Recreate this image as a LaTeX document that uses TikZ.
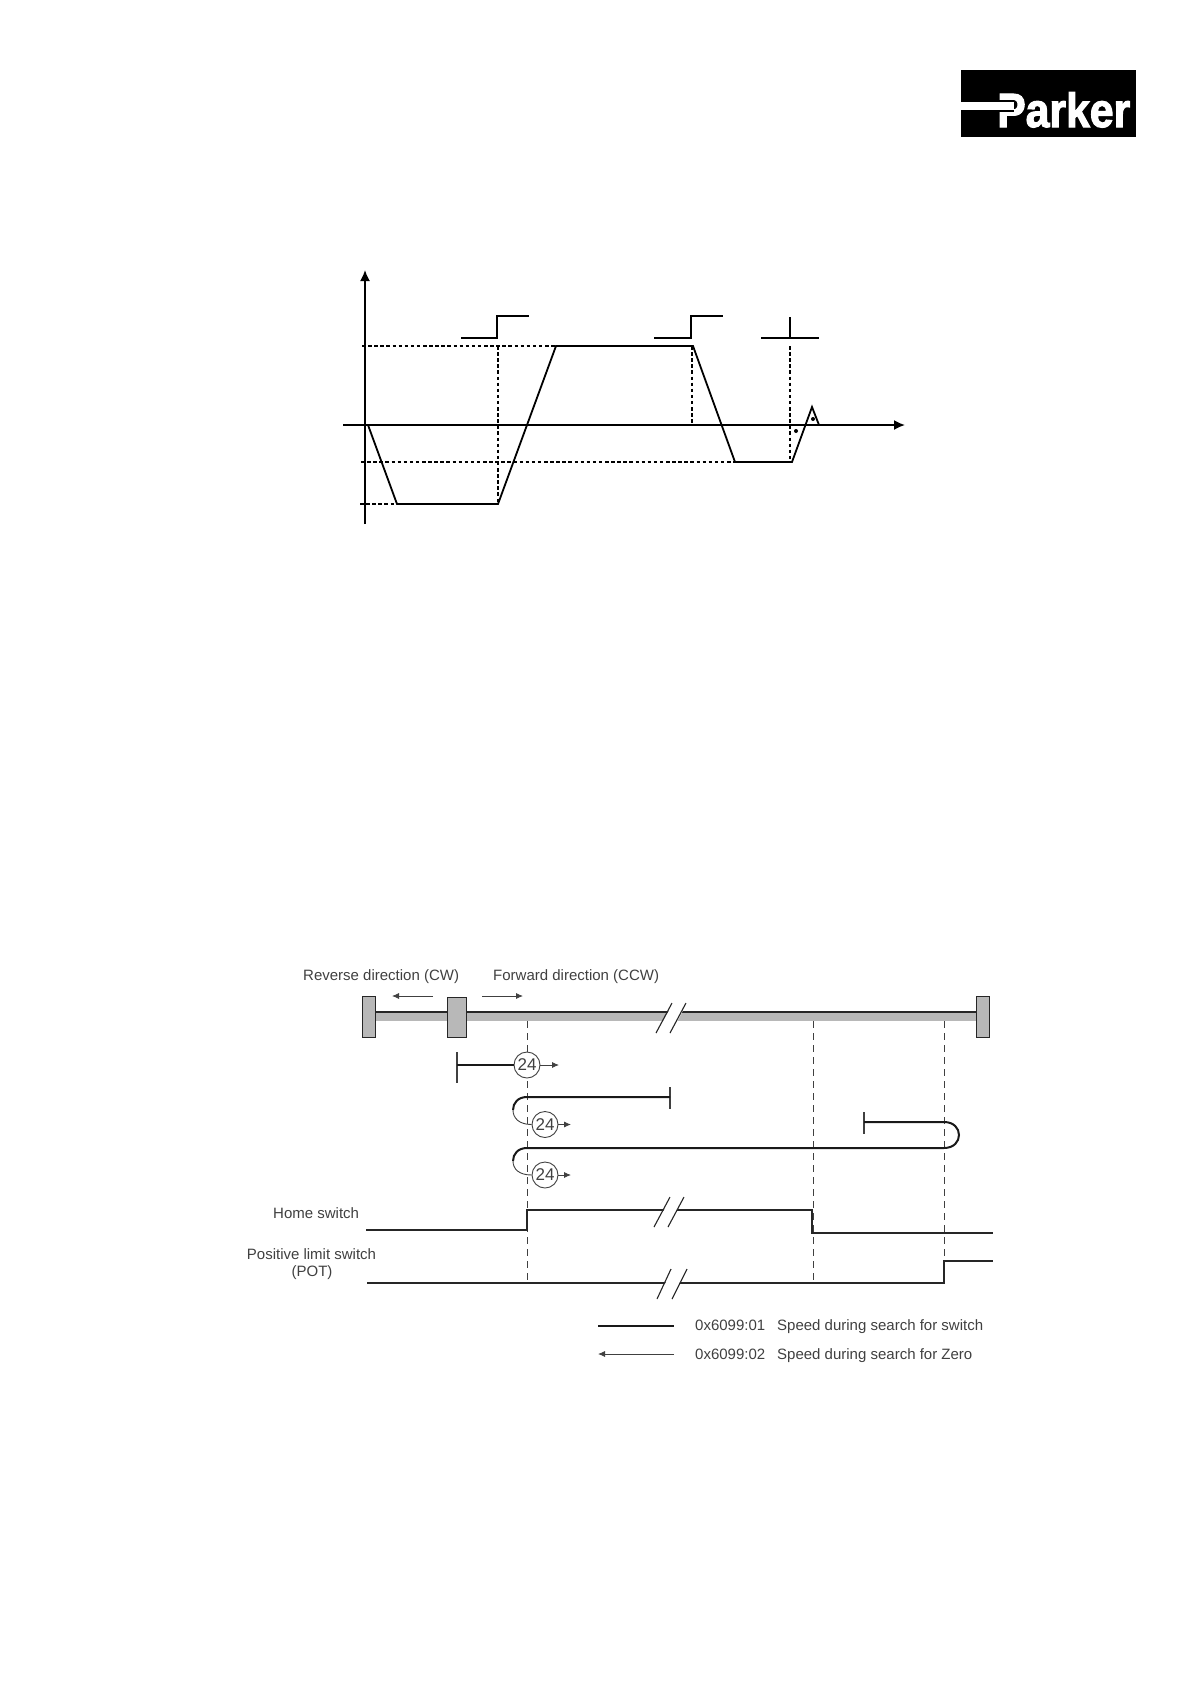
\documentclass[tikz,border=0pt]{standalone}
\usepackage{fontspec}
\setmainfont{Liberation Sans}
\newfontfamily\logofont[UprightFont=* Bold,FakeBold=2.5]{Liberation Sans}
\usepackage{xcolor}
\usetikzlibrary{arrows,arrows.meta,shapes,positioning,calc}

\definecolor{darktext}{HTML}{404040}
\definecolor{blockgray}{HTML}{B8B8B8}

\begin{document}
\begin{tikzpicture}[
    x=1pt, y=-1pt,
    axis/.style={-{Latex[length=11pt,width=10pt]}, line width=1.7pt, black},
    profile/.style={line width=1.8pt, black, line join=miter},
    guide/.style={line width=1.3pt, black, dash pattern=on 3.5pt off 2.6pt},
    block/.style={rectangle, draw=black!85, line width=1.2pt, fill=blockgray, inner sep=0pt},
    zone/.style={line width=0.9pt, darktext, dash pattern=on 7pt off 5pt},
    fastrun/.style={line width=2pt, black!90},
    slowrun/.style={line width=0.9pt, darktext},
    slowarrow/.style={-{Latex[length=7pt,width=6pt]}, line width=0.8pt, darktext},
    tick/.style={line width=1.1pt, darktext},
    signal/.style={line width=1.4pt, black!85},
    circled/.style={circle, draw=darktext, line width=0.9pt, fill=white, inner sep=0pt, minimum size=26pt, font=\fontsize{17}{17}\selectfont, text=darktext},
    label/.style={inner sep=0pt, font=\fontsize{15}{17}\selectfont, text=darktext},
    breakmark/.style={line width=1.1pt, black!85}
]
\useasboundingbox (0,0) rectangle (1191,1684);

% Logo
\node[rectangle, fill=black, inner sep=0pt, minimum width=175pt, minimum height=67pt, anchor=north west] (logo) at (961,70) {};
\node[inner sep=0pt, text=white, anchor=base west, font=\logofont\fontsize{48}{48}\selectfont] (parker) at (997,127) {\scalebox{0.89}[1]{Parker}};
\fill[black] (998,100) rectangle (1014,112);
\fill[white] (logo.west |- 0,102) rectangle (1014,110);

% Speed profile
\coordinate (vbottom) at (365,524);
\coordinate (vtop) at (365,270);
\coordinate (tleft) at (343,425);
\coordinate (tright) at (905,425);
\draw[axis] (vbottom) -- (vtop);
\draw[axis] (tleft) -- (tright);

\draw[guide] (362,346) -- (556,346);
\draw[guide] (361,462) -- (735,462);
\draw[guide] (360,504) -- (397,504);
\draw[guide] (498,346) -- (498,504);
\draw[guide] (692,346) -- (692,425);
\draw[guide] (790,346) -- (790,462);

\draw[profile] (368,425) -- (397,504) -- (498,504) -- (556,346) -- (693,346) -- (735,462) -- (792,462) -- (812,407) -- (819,425);

% Switch edges
\draw[profile] (461,338) -- (497,338) -- (497,316) -- (529,316);
\draw[profile] (654,338) -- (691,338) -- (691,316) -- (723,316);
\draw[profile] (761,338) -- (819,338);
\draw[profile] (790,317) -- (790,338);

\fill (796,431) circle (2);
\fill (813,419) circle (2);

% Direction labels
\node[label, anchor=base west] (reverse) at (303,980) {Reverse direction (CW)};
\node[label, anchor=base west] (forward) at (493,980) {Forward direction (CCW)};
\draw[slowarrow] (433,996) -- (392,996);
\draw[slowarrow] (482,996) -- (523,996);

% Zone boundaries
\draw[zone] (527,1021) -- (527,1283);
\draw[zone] (813,1021) -- (813,1283);
\draw[zone] (944,1021) -- (944,1283);

% Rail and stops
\node[rectangle, fill=blockgray, inner sep=0pt, minimum width=607pt, minimum height=9pt, anchor=north west] (rail) at (369,1012) {};
\draw[line width=1.4pt, black!85] (rail.north west) -- (rail.north east);
\node[block, minimum width=13pt, minimum height=41pt, anchor=north west] (stopleft) at (362,996) {};
\node[block, minimum width=19pt, minimum height=40pt, anchor=north west] (blockmid) at (447,997) {};
\node[block, minimum width=13pt, minimum height=41pt, anchor=north west] (stopright) at (976,996) {};

\fill[white] (657,1033) -- (673,1003) -- (687,1003) -- (671,1033) -- cycle;
\draw[breakmark] (656,1033) -- (672,1003);
\draw[breakmark] (670,1033) -- (686,1003);

% Runs
\node[circled] (zeroa) at (527,1065) {24};
\node[circled] (zerob) at (545,1124.5) {24};
\node[circled] (zeroc) at (545,1175) {24};
\coordinate (zeroaend) at (559,1065);
\coordinate (zerobend) at (571,1124.5);
\coordinate (zerocend) at (571,1175);

\draw[tick] (457,1052) -- (457,1083);
\draw[fastrun] (457,1065) -- (zeroa.west);
\draw[slowarrow] (zeroa.east) -- (zeroaend);

\draw[tick] (670,1087) -- (670,1109);
\draw[fastrun] (670,1097) -- (527,1097) .. controls (518,1097) and (513,1103) .. (513,1110);
\draw[slowrun] (513,1110) .. controls (513,1118) and (519,1124.5) .. (zerob.west);
\draw[slowarrow] (zerob.east) -- (zerobend);

\draw[tick] (864,1112) -- (864,1134);
\draw[fastrun] (864,1122) -- (944,1122) .. controls (964,1122) and (964,1148) .. (944,1148) -- (527,1148) .. controls (518,1148) and (513,1154) .. (513,1161);
\draw[slowrun] (513,1161) .. controls (513,1169) and (519,1175) .. (zeroc.west);
\draw[slowarrow] (zeroc.east) -- (zerocend);

% Switch signals
\node[label, anchor=base west] (home) at (273,1218) {Home switch};
\node[label, anchor=base] (limit) at (311.5,1259) {Positive limit switch};
\node[label, anchor=base] (pot) at (312,1276) {(POT)};
\draw[signal] (366,1230) -- (527,1230) -- (527,1210) -- (812,1210) -- (812,1233) -- (993,1233);
\draw[signal] (367,1283) -- (944,1283) -- (944,1261) -- (993,1261);

\fill[white] (655,1227) -- (671,1197) -- (684,1197) -- (668,1227) -- cycle;
\draw[breakmark] (654,1227) -- (670,1197);
\draw[breakmark] (668,1227) -- (684,1197);
\fill[white] (658,1299) -- (672,1269) -- (686,1269) -- (672,1299) -- cycle;
\draw[breakmark] (657,1299) -- (671,1269);
\draw[breakmark] (672,1299) -- (687,1269);

% Legend
\coordinate (keya) at (598,1326);
\coordinate (keyb) at (674,1326);
\coordinate (keyc) at (674,1354);
\coordinate (keyd) at (598,1354);
\draw[line width=2.6pt, black!90] (keya) -- (keyb);
\draw[slowarrow] (keyc) -- (keyd);
\node[label, anchor=base west] (codea) at (695,1330) {0x6099:01};
\node[label, anchor=base west] (texta) at (777,1330) {Speed during search for switch};
\node[label, anchor=base west] (codeb) at (695,1359) {0x6099:02};
\node[label, anchor=base west] (textb) at (777,1359) {Speed during search for Zero};

\end{tikzpicture}
\end{document}
